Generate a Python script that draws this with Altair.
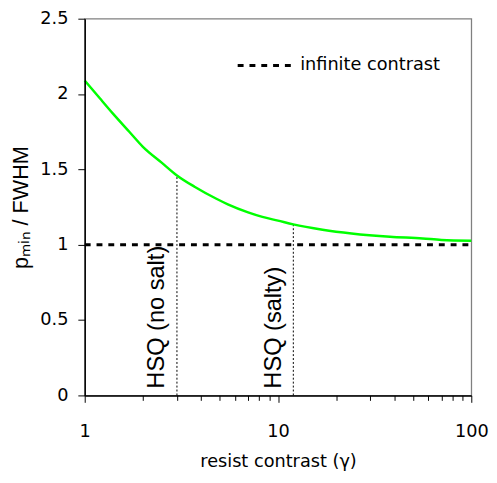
import altair as alt
import pandas as pd

# ---- data ----
gamma = [1, 1.2, 1.4, 1.7, 2, 2.5, 3, 3.7, 4.8, 5.5, 7, 8.3, 10, 12, 17, 24, 38, 56, 70, 100]
pmin = [2.09, 1.97, 1.87, 1.75, 1.65, 1.545, 1.46, 1.385, 1.305, 1.268, 1.215, 1.185,
        1.16, 1.135, 1.10, 1.075, 1.053, 1.042, 1.032, 1.027]

limit_gamma = [1, 100]
limit_value = [1.0, 1.0]
limit_label = "infinite contrast"

hsq_labels = ["HSQ (no salt)", "HSQ (salty)"]
hsq_gamma = [3, 12]
hsq_top = [1.46, 1.135]
hsq_base = [0, 0]
hsq_text_y = [0.045, 0.045]

x_ticks = [1, 2, 3, 4, 5, 6, 7, 8, 9, 10, 20, 30, 40, 50, 60, 70, 80, 90, 100]
x_major = [1, 10, 100]
y_ticks = [0, 0.5, 1, 1.5, 2, 2.5]

curve_df = pd.DataFrame({"gamma": gamma, "pmin": pmin})
limit_df = pd.DataFrame({"gamma": limit_gamma, "pmin": limit_value,
                         "series": [limit_label] * len(limit_gamma)})
hsq_df = pd.DataFrame({"gamma": hsq_gamma, "top": hsq_top, "base": hsq_base,
                       "ty": hsq_text_y, "label": hsq_labels})

major_test = "indexof([" + ",".join(str(v) for v in x_major) + "], datum.value) >= 0"

x_scale = alt.Scale(type="log", domain=[1, 100], nice=False)
y_scale = alt.Scale(domain=[0, 2.5], nice=False)

x_axis = alt.Axis(
    values=x_ticks, format="~g",
    labelExpr=major_test + " ? datum.label : ''",
    labelFont="DejaVu Sans", labelFontSize=18, labelColor="black",
    labelBaseline="alphabetic", labelPadding=35, labelFlush=False, labelOverlap=False,
    tickSize={"condition": {"test": major_test, "value": 7}, "value": 5},
    tickColor="black", tickWidth=1,
    domainColor="black", domainWidth=1.5,
    title="resist contrast (γ)", titleFont="DejaVu Sans", titleFontSize=18,
    titleFontWeight="normal", titleColor="black",
    titleBaseline="alphabetic", titleY=72,
    grid=False, zindex=1,
)
y_axis = alt.Axis(
    values=y_ticks, format="~g",
    labelFont="DejaVu Sans", labelFontSize=18, labelColor="black",
    labelPadding=10, labelFlush=False,
    tickSize=7, tickColor="black", tickWidth=1,
    domainColor="black", domainWidth=1.5,
    title="pₘᵢₙ / FWHM", titleFont="Liberation Sans", titleFontSize=22,
    titleFontWeight="normal", titleColor="black",
    titleAngle=270, titleBaseline="alphabetic", titleX=-58, titleY=191.5,
    grid=False, zindex=1,
)

def xenc():
    return alt.X("gamma:Q", scale=x_scale, axis=x_axis)

curve = alt.Chart(curve_df).mark_line(
    color="#00FF00", strokeWidth=2.5, interpolate="monotone"
).encode(
    x=xenc(),
    y=alt.Y("pmin:Q", scale=y_scale, axis=y_axis),
)

limit = alt.Chart(limit_df).mark_line(color="black", strokeWidth=3).encode(
    x=xenc(),
    y=alt.Y("pmin:Q", scale=y_scale, axis=y_axis),
    strokeDash=alt.StrokeDash(
        "series:N",
        scale=alt.Scale(domain=[limit_label], range=[[6, 6]]),
        legend=alt.Legend(
            title=None, orient="none", legendX=154, legendY=17,
            symbolType="stroke", symbolSize=3364, symbolStrokeWidth=3,
            symbolStrokeColor="black",
            labelFont="DejaVu Sans", labelFontSize=18, labelColor="black",
            labelOffset=4, padding=0,
        ),
    ),
)

rules = alt.Chart(hsq_df).mark_rule(color="black", strokeWidth=1, strokeDash=[2, 2]).encode(
    x=xenc(),
    y=alt.Y("base:Q", scale=y_scale, axis=y_axis),
    y2="top:Q",
)

labels = alt.Chart(hsq_df).mark_text(
    angle=270, align="left", baseline="alphabetic", dy=-13,
    font="Liberation Sans", fontSize=24, color="black",
).encode(
    x=xenc(),
    y=alt.Y("ty:Q", scale=y_scale, axis=y_axis),
    text="label:N",
)

chart = alt.layer(rules, limit, curve, labels).properties(
    width=393, height=383,
    autosize=alt.AutoSizeParams(type="none"),
    padding={"left": 78, "top": 7, "right": 18, "bottom": 75},
).configure_view(stroke="#808080", strokeWidth=1.3)

chart.save("out.html", embed_options={"renderer": "svg", "actions": False})
